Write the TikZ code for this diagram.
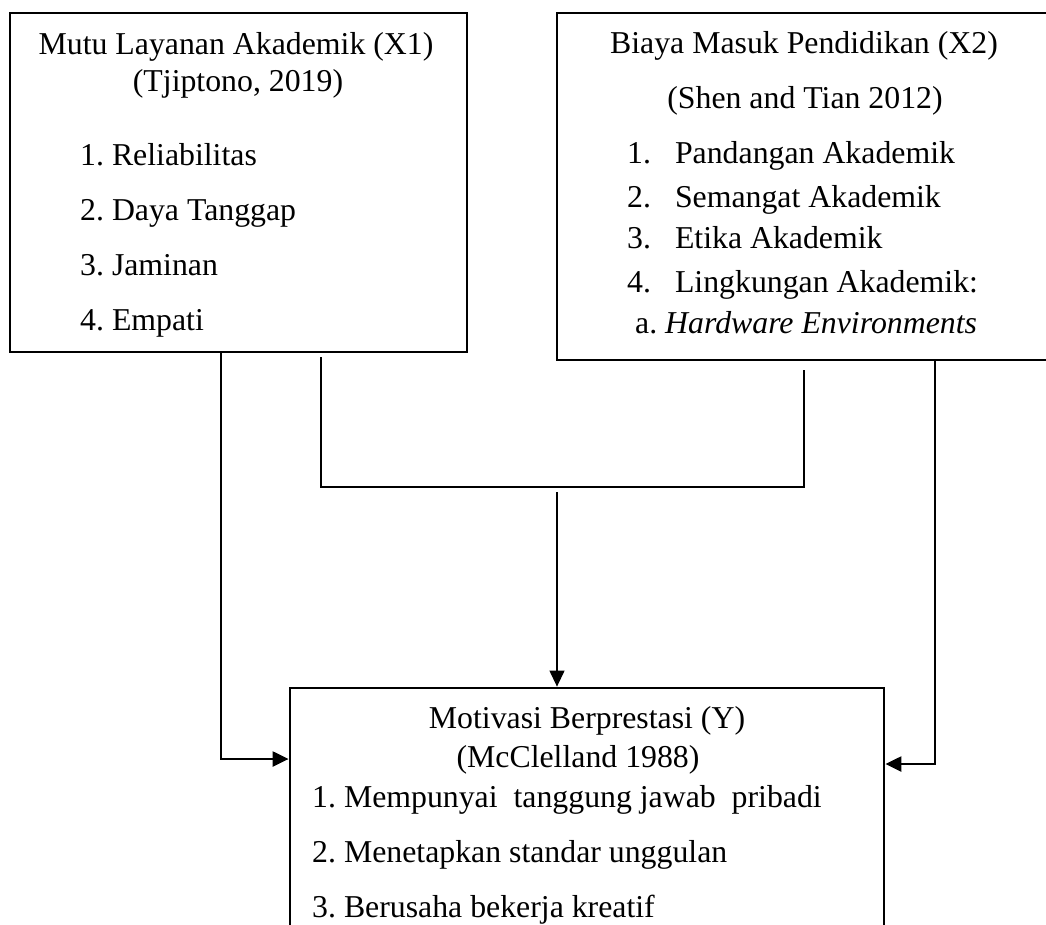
\documentclass[tikz,border=0pt]{standalone}
\usepackage{fontspec}
\setmainfont{Liberation Serif}
\usetikzlibrary{arrows.meta}
\frenchspacing
\begin{document}
\begin{tikzpicture}
    [
    x=1pt, y=-1pt,
    box/.style={rectangle,draw,line width=2.8pt,inner sep=0pt},
    txt/.style={inner sep=0pt,anchor=base,font=\fontsize{31.8}{38}\selectfont},
    item/.style={txt,anchor=base west},
    conn/.style={line width=2.3pt},
    flow/.style={conn,-{Triangle[length=16pt,width=15pt]}},
    thinflow/.style={line width=1.2pt,-{Triangle[length=16pt,width=15pt]}}
    ]
    \clip (0,0) rectangle (1046,924);
    \fill[white] (0,0) rectangle (1046,924);
    % boxes
    \node (x1) at (238.5,182.5) [box, minimum width=457pt, minimum height=339pt] {};
    \node (x2) at (805,186.5) [box, minimum width=496pt, minimum height=347pt] {};
    \node (y) at (587,824) [box, minimum width=594pt, minimum height=272pt] {};
    % texts of x1
    \node (x1t) at (236,54) [txt] {Mutu Layanan Akademik (X1)};
    \node (x1s) at (238,91) [txt] {(Tjiptono, 2019)};
    \node (x1a) at (80,165) [item] {1. Reliabilitas};
    \node (x1b) at (80,220) [item] {2. Daya Tanggap};
    \node (x1c) at (80,275) [item] {3. Jaminan};
    \node (x1d) at (80,330) [item] {4. Empati};
    % texts of x2
    \node (x2t) at (804,53) [txt] {Biaya Masuk Pendidikan (X2)};
    \node (x2s) at (805,108) [txt] {(Shen and Tian 2012)};
    \node (x2a) at (627,163) [item] {1.\hspace{24pt}Pandangan Akademik};
    \node (x2b) at (627,207) [item] {2.\hspace{24pt}Semangat Akademik};
    \node (x2c) at (627,248) [item] {3.\hspace{24pt}Etika Akademik};
    \node (x2d) at (627,292) [item] {4.\hspace{24pt}Lingkungan Akademik:};
    \node (x2e) at (635,333) [item] {a. \textit{Hardware Environments}};
    % texts of y
    \node (yt) at (587,728) [txt] {Motivasi Berprestasi (Y)};
    \node (ys) at (578,767) [txt] {(McClelland 1988)};
    \node (ya) at (312,807) [item] {1. Mempunyai\ \ tanggung jawab\ \ pribadi};
    \node (yb) at (312,862) [item] {2. Menetapkan standar unggulan};
    \node (yc) at (312,917) [item] {3. Berusaha bekerja kreatif};
    % connectors
    \coordinate (l1) at (221,759);
    \coordinate (r1) at (935,764);
    \coordinate (jl) at (321,487);
    \coordinate (jr) at (804,487);
    \coordinate (jm) at (557,487);
    \draw [flow] (x1.south -| l1) |- (y.west |- l1);
    \draw [flow] (x2.south -| r1) |- (y.east |- r1);
    \draw [conn] ([yshift=-4pt]x1.south -| jl) -- (jl) -- (jr) -- ([yshift=-9pt]x2.south -| jr);
    \draw [thinflow] ([yshift=-5pt]jm) -- (y.north -| jm);
  \end{tikzpicture}
\end{document}
